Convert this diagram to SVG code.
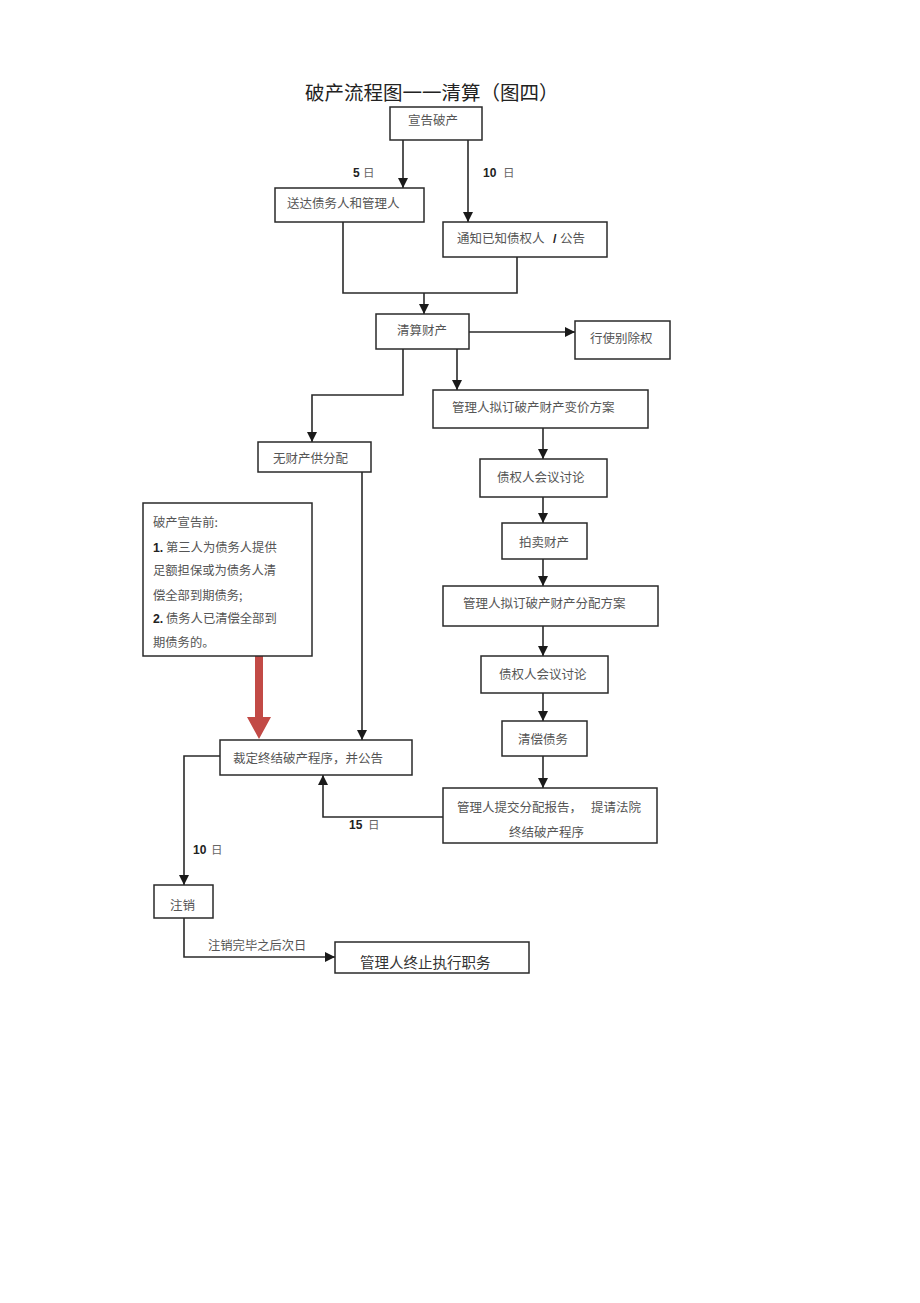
<svg xmlns="http://www.w3.org/2000/svg" width="920" height="1303" viewBox="0 0 920 1303">
<style>
.bx{fill:#fff;stroke:#2a2a2a;stroke-width:1.5}
.t{font-family:"Noto Sans CJK SC","Liberation Serif",sans-serif;font-size:12.5px;fill:#555}
.tl{font-family:"Noto Sans CJK SC","Liberation Serif",sans-serif;font-size:12.3px;fill:#555}
.num{font-family:"Liberation Sans",Arial,sans-serif;font-size:12px;font-weight:bold;fill:#222}
.ri{font-family:"Noto Sans CJK SC",sans-serif;font-size:11.5px;fill:#666}
.c{fill:none;stroke:#2a2a2a;stroke-width:1.6}
.ca{fill:none;stroke:#2a2a2a;stroke-width:1.6;marker-end:url(#ah)}
</style>
<defs>
<marker id="ah" markerUnits="userSpaceOnUse" markerWidth="10" markerHeight="10" refX="10" refY="5" orient="auto">
<path d="M0,0 L10,5 L0,10 z" fill="#1a1a1a"/>
</marker>
</defs>
<rect width="920" height="1303" fill="#fff"/>
<text x="305" y="99.5" font-family="Noto Sans CJK SC, sans-serif" font-size="19.5" fill="#222">破产流程图一一清算（图四）</text>

<g id="connectors">
<line class="ca" x1="403" y1="140" x2="403" y2="188"/>
<line class="ca" x1="468" y1="140" x2="468" y2="222"/>
<polyline class="c" points="343,222 343,293 517,293 517,257"/>
<line class="ca" x1="424" y1="293" x2="424" y2="314"/>
<line class="ca" x1="469" y1="332" x2="575" y2="332"/>
<polyline class="ca" points="403,349 403,395 312,395 312,442"/>
<line class="ca" x1="457" y1="349" x2="457" y2="390"/>
<line class="ca" x1="543" y1="428" x2="543" y2="459"/>
<line class="ca" x1="543" y1="497" x2="543" y2="523"/>
<line class="ca" x1="543" y1="559" x2="543" y2="586"/>
<line class="ca" x1="543" y1="626" x2="543" y2="656"/>
<line class="ca" x1="543" y1="693" x2="543" y2="721"/>
<line class="ca" x1="543" y1="756" x2="543" y2="788"/>
<line class="ca" x1="362" y1="472" x2="362" y2="740"/>
<polyline class="ca" points="443,817 323,817 323,775"/>
<polyline class="ca" points="220,756 184,756 184,885"/>
<polyline class="ca" points="184,918 184,957 335,957"/>
<polygon points="255,656 263,656 263,717 271,717 259,739 247,717 255,717" fill="#c24a46"/>
<text class="num" x="353" y="177">5</text><text class="ri" x="363" y="177">日</text>
<text class="num" x="483" y="177">10</text><text class="ri" x="503" y="177">日</text>
<text class="num" x="349" y="829">15</text><text class="ri" x="368" y="829">日</text>
<text class="num" x="193" y="854">10</text><text class="ri" x="211" y="854">日</text>
<text class="tl" x="208" y="949.5">注销完毕之后次日</text>
</g>

<g id="n1"><rect class="bx" x="390" y="107" width="92" height="33"/><text class="t" x="408" y="124.5">宣告破产</text></g>
<g id="n2"><rect class="bx" x="275" y="188" width="149" height="34"/><text class="t" x="287" y="208">送达债务人和管理人</text></g>
<g id="n3"><rect class="bx" x="443" y="222" width="164" height="35"/><text class="t" x="457" y="243">通知已知债权人<tspan x="553" font-family="Liberation Sans, sans-serif" font-weight="bold" fill="#222">/</tspan><tspan x="560">公告</tspan></text></g>
<g id="n4"><rect class="bx" x="376" y="314" width="93" height="35"/><text class="t" x="397" y="335">清算财产</text></g>
<g id="n5"><rect class="bx" x="575" y="321" width="95" height="38"/><text class="t" x="590" y="342.5">行使别除权</text></g>
<g id="n6"><rect class="bx" x="433" y="390" width="215" height="38"/><text class="t" x="452" y="411.5">管理人拟订破产财产变价方案</text></g>
<g id="n7"><rect class="bx" x="258" y="442" width="113" height="30"/><text class="t" x="273" y="462.5">无财产供分配</text></g>
<g id="n8"><rect class="bx" x="480" y="459" width="127" height="38"/><text class="t" x="497" y="481.5">债权人会议讨论</text></g>
<g id="n9"><rect class="bx" x="502" y="523" width="85" height="36"/><text class="t" x="519" y="546.5">拍卖财产</text></g>
<g id="n10"><rect class="bx" x="443" y="586" width="215" height="40"/><text class="t" x="463" y="607.5">管理人拟订破产财产分配方案</text></g>
<g id="n11"><rect class="bx" x="481" y="656" width="127" height="37"/><text class="t" x="499" y="678.5">债权人会议讨论</text></g>
<g id="n12"><rect class="bx" x="502" y="721" width="85" height="35"/><text class="t" x="518" y="743.5">清偿债务</text></g>
<g id="n13"><rect class="bx" x="443" y="788" width="214" height="55"/><text class="t" x="457" y="811.5">管理人提交分配报告，<tspan x="591">提请法院</tspan></text><text class="t" x="509" y="836.5">终结破产程序</text></g>
<g id="n14"><rect class="bx" x="143" y="503" width="169" height="153"/>
<text class="tl" x="153" y="527">破产宣告前:</text>
<text class="tl" x="153" y="552"><tspan font-family="Liberation Sans, sans-serif" font-weight="bold" fill="#222">1.</tspan><tspan x="166">第三人为债务人提供</tspan></text>
<text class="tl" x="153" y="575">足额担保或为债务人清</text>
<text class="tl" x="153" y="600">偿全部到期债务;</text>
<text class="tl" x="153" y="623"><tspan font-family="Liberation Sans, sans-serif" font-weight="bold" fill="#222">2.</tspan><tspan x="166">债务人已清偿全部到</tspan></text>
<text class="tl" x="153" y="647">期债务的。</text>
</g>
<g id="n15"><rect class="bx" x="220" y="740" width="192" height="35"/><text class="t" x="233" y="762.5">裁定终结破产程序，并公告</text></g>
<g id="n16"><rect class="bx" x="154" y="885" width="59" height="33"/><text class="t" x="170" y="909.5">注销</text></g>
<g id="n17"><rect class="bx" x="335" y="942" width="194" height="31"/><text x="360" y="967.5" font-family="Noto Sans CJK SC, sans-serif" font-size="14.5" fill="#333">管理人终止执行职务</text></g>
</svg>
